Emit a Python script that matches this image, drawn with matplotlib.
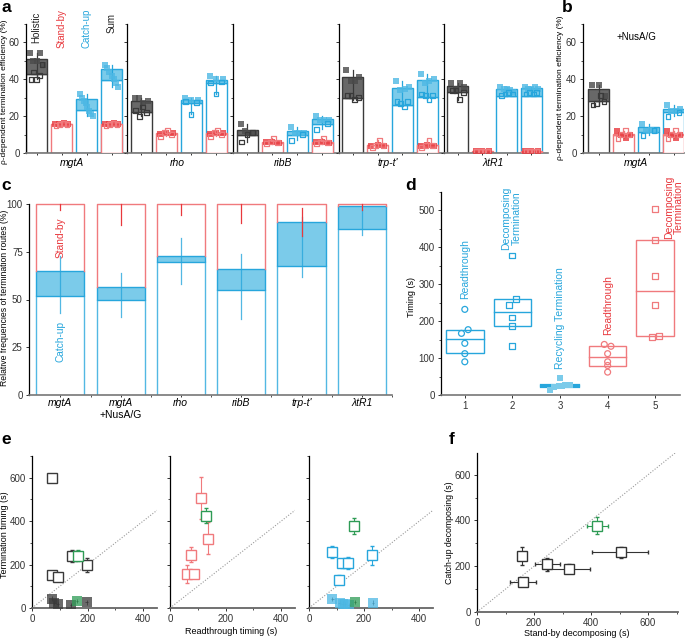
import numpy as np
import matplotlib
matplotlib.use('Agg')
import matplotlib.pyplot as plt
from matplotlib.patches import Rectangle
from matplotlib.ticker import MultipleLocator, NullFormatter

plt.rcParams['font.family'] = ['Liberation Sans', 'DejaVu Sans']
plt.rcParams['font.size'] = 7
plt.rcParams['axes.linewidth'] = 0.9
for k in ['xtick', 'ytick']:
    plt.rcParams[k + '.major.size'] = 2.5
    plt.rcParams[k + '.minor.size'] = 1.5
    plt.rcParams[k + '.major.pad'] = 2
    plt.rcParams[k + '.labelsize'] = 7
    plt.rcParams[k + '.color'] = '#333333'
    plt.rcParams[k + '.major.width'] = 0.7
    plt.rcParams[k + '.minor.width'] = 0.6

# ---------------- data: panel a ----------------
genes_a = ['mgtA', 'rho', 'ribB', "trp-t'", 'λtR1']
route_names = ['Holistic', 'Stand-by', 'Catch-up', 'Sum']
holistic_low = [43, 22, 10, 30, 33]
holistic_high = [51, 28.3, 12.4, 41.3, 36.4]
holistic_open = [[40, 44, 40, 42, 48], [23, 20, 25, 22], [6, 10, 11], [31, 31, 29, 30], [34, 34, 29, 33]]
holistic_filled = [[54, 50, 50, 54, 48], [30, 30, 27, 28], [16, 12, 11, 11], [45, 39, 39, 41], [38, 35, 38, 36]]
standby_low = [15.5, 10.5, 5.5, 4.3, 0.8]
standby_high = [16, 10.8, 6, 4.5, 1.0]
standby_open = [[15, 15.5, 16, 15.5], [9, 11, 12, 10], [5, 6, 8, 5.5], [3, 4, 7, 4], [0.8, 0.8, 0.8, 0.8]]
standby_filled = [[15.5, 16, 16.5, 16], [10.5, 11, 11], [6, 6, 5.5], [4, 4.5, 4], [1, 1, 1]]
catchup_low = [23.3, 27, 10, 26, 31]
catchup_high = [29.2, 28.5, 12, 35.5, 35]
catchup_open = [[], [28, 21, 27.5], [7, 10], [28, 27, 25, 28], [31, 32, 33, 32]]
catchup_filled = [[32, 30, 28, 27, 25, 23, 21, 20], [30, 29, 29], [14, 11, 11, 11], [39, 34, 35, 36], [36, 35, 35, 34, 33]]
sum_low = [39.5, 38, 16, 30.4, 31]
sum_high = [45.4, 39.5, 18.4, 39.5, 35.2]
sum_open = [[], [38, 32, 38.5], [12.8, 16], [32, 31, 29, 31], [32, 33, 32, 33]]
sum_filled = [[48, 46, 44, 42, 40, 38, 36], [42, 40, 40], [20, 18, 18, 18], [43, 38, 39, 40], [36, 35, 35, 36, 35]]

# ---------------- data: panel b (mgtA +NusA/G) ----------------
nus_low = [28, 10, 11.5, 22]
nus_high = [34.6, 10.3, 13.9, 24]
nus_open = [[26, 27, 31, 28], [8, 10, 12, 10], [9.7, 12], [20, 22]]
nus_filled = [[37, 37, 31], [12, 10, 8, 10], [16, 12, 12.5, 12], [26, 23, 23, 24]]

# ---------------- data: panel c ----------------
genes_c = ['mgtA', 'mgtA', 'rho', 'ribB', "trp-t'", 'λtR1']
genes_c_sub = ['', '+NusA/G', '', '', '', '']
c_low = [52, 49.5, 69.6, 55, 67.7, 87]
c_high = [65, 56.8, 72.9, 66, 90.4, 98.8]
c_blue_err_lo = [43, 41, 58, 40, 62, 84]
c_blue_err_hi = [73, 64, 82, 74, 93, 97]
c_red_err_lo = [97, 89, 94, 90, 83, 97]
c_red_err_hi = [100, 100, 100, 100, 98, 100]

# ---------------- data: panel d ----------------
d_pos = [1, 2, 3, 4, 5]
d_points = [[232, 177, 167, 140, 112, 90],
            [378, 260, 245, 210, 188, 132],
            [45, 14, 22, 25, 27, 28, 24],
            [137, 132, 112, 90, 80, 62],
            [503, 420, 322, 245, 158, 160]]
d_box_low = [113, 188, 22, 78, 160]
d_box_mid = [153, 226, 24, 102, 283]
d_box_high = [176, 260, 26, 132, 421]
d_labels = ['Readthrough', 'Decomposing\nTermination', 'Recycling Termination', 'Readthrough', 'Decomposing\nTermination']

# ---------------- data: panel e ----------------
e1_x = [73, 143, 198, 72, 93]
e1_y = [597, 238, 200, 152, 145]
e1_xerr = [6, 12, 8, 6, 8]
e1_ylo = [587, 212, 168, 140, 133]
e1_yhi = [607, 265, 232, 165, 158]
e1g = [165, 240, 6, 215, 265]
e1f_x = [72, 80, 93, 140, 197]
e1f_y = [43, 22, 17, 12, 26]
e1fg = [162, 32]

e2_x = [110, 135, 75, 60, 87]
e2_y = [505, 320, 243, 155, 155]
e2_xerr = [6, 8, 6, 10, 6]
e2_ylo = [409, 250, 210, 115, 140]
e2_yhi = [602, 395, 280, 200, 170]
e2g = [131, 423, 6, 390, 460]

e3_x = [85, 121, 141, 228, 109]
e3_y = [258, 205, 205, 243, 131]
e3_xerr = [8, 10, 15, 8, 8]
e3_ylo = [230, 185, 180, 200, 115]
e3_yhi = [285, 225, 235, 285, 150]
e3g = [165, 377, 6, 340, 415]
e3f_x = [85, 112, 122, 130, 145, 232]
e3f_y = [42, 25, 20, 18, 15, 25]
e3fg = [167, 27]

# ---------------- data: panel f ----------------
f_x = [157, 161, 247, 323, 505]
f_y = [246, 132, 208, 187, 261]
f_xlo = [150, 115, 205, 250, 405]
f_xhi = [165, 207, 290, 395, 600]
f_ylo = [205, 120, 180, 170, 235]
f_yhi = [285, 145, 235, 210, 285]
fg = [421, 378, 385, 460, 340, 415]

# ---------------- styles ----------------
BLK_EDGE, BLK_FILL, BLK_PT = '#3a3a3a', '#686868', '#4a4a4a'
RED, RED_LT = '#E8383D', '#F07A7D'
BLUE, BLUE_FILL, BLUE_PT = '#27A6DC', '#7BCBEA', '#4DB8E4'
GREEN = '#2E9B55'
GRID_GREY = '#777777'

W, H = 685, 638
fig = plt.figure(figsize=(W / 100, H / 100), dpi=100)


def add_ax(l, t, r, b):
    return fig.add_axes([l / W, 1 - b / H, (r - l) / W, (b - t) / H])


def ftext(x, y, s, **kw):
    fig.text(x / W, 1 - y / H, s, **kw)


def spread(n, half=0.26):
    if n <= 1:
        return np.zeros(n)
    return np.linspace(-half, half, n)


def draw_route(ax, x, lo, hi, opens, filleds, edge, fill, ptc, z=2, w=0.84):
    ax.add_patch(Rectangle((x - w / 2, 0), w, lo, facecolor='white', edgecolor=edge, lw=1.0, zorder=z))
    ax.add_patch(Rectangle((x - w / 2, lo), w, hi - lo, facecolor=fill, edgecolor=edge, lw=1.0, zorder=z))
    pts = list(opens) + list(filleds)
    if pts:
        ax.plot([x, x], [min(pts), max(pts)], color=edge, lw=0.9, zorder=z + 0.5)
    if filleds:
        ax.scatter(x + spread(len(filleds)), filleds, marker='s', s=14, color=ptc, alpha=0.8,
                   lw=0, zorder=z + 1)
    if opens:
        ax.scatter(x + spread(len(opens), 0.22), opens, marker='s', s=12, facecolors='none',
                   edgecolors=edge, lw=0.9, zorder=z + 1.5)


def style_bar_axis(ax, labels):
    ax.set_ylim(0, 70)
    for s in ['top', 'right']:
        ax.spines[s].set_visible(False)
    ax.spines['bottom'].set_color(GRID_GREY)
    ax.spines['bottom'].set_linewidth(1.2)
    ax.yaxis.set_major_locator(MultipleLocator(20))
    ax.yaxis.set_minor_locator(MultipleLocator(10))
    if not labels:
        ax.yaxis.set_major_formatter(NullFormatter())
    ax.set_xticks([0, 1, 2, 3])
    ax.set_xticklabels([])
    ax.tick_params(axis='x', length=1.5)


# ---------------- panel a ----------------
a_left = [26, 127, 233, 339, 444]
a_right = [127, 233, 339, 444, 548]
a_label_x = [72, 177, 283, 388, 493]
for i in range(5):
    ax = add_ax(a_left[i], 24, a_right[i], 153)
    ax.set_xlim((-0.42, 3.62) if i == 0 else (-0.56, 3.68))
    style_bar_axis(ax, i == 0)
    draw_route(ax, 0, holistic_low[i], holistic_high[i], holistic_open[i], holistic_filled[i],
               BLK_EDGE, BLK_FILL, BLK_PT)
    draw_route(ax, 1, standby_low[i], standby_high[i], standby_open[i], standby_filled[i],
               RED_LT, RED_LT, RED)
    draw_route(ax, 2, catchup_low[i], catchup_high[i], catchup_open[i], catchup_filled[i],
               BLUE, BLUE_FILL, BLUE_PT)
    draw_route(ax, 3, sum_low[i], sum_high[i], sum_open[i], sum_filled[i],
               BLUE, BLUE_FILL, BLUE_PT)
    draw_route(ax, 3, standby_low[i], standby_high[i], standby_open[i], standby_filled[i],
               RED_LT, RED_LT, RED, z=5)
    ftext(a_label_x[i], 163, genes_a[i], ha='center', va='center', fontsize=7.5, style='italic')
    if i == 0:
        cols = ['#222222', RED, BLUE, '#222222']
        ybot = [59.5, 56.8, 57, 64.9]
        for j in range(4):
            ax.text(j, ybot[j], route_names[j], rotation=90, ha='center', va='bottom',
                    color=cols[j], fontsize=7)

ftext(4.5, 92, 'ρ-dependent termination efficiency (%)', rotation=90, ha='center', va='center', fontsize=6)

# ---------------- panel b ----------------
axb = add_ax(583, 24, 684, 153)
axb.set_xlim(-0.62, 3.42)
style_bar_axis(axb, True)
draw_route(axb, 0, nus_low[0], nus_high[0], nus_open[0], nus_filled[0], BLK_EDGE, BLK_FILL, BLK_PT)
draw_route(axb, 1, nus_low[1], nus_high[1], nus_open[1], nus_filled[1], RED_LT, RED_LT, RED)
draw_route(axb, 2, nus_low[2], nus_high[2], nus_open[2], nus_filled[2], BLUE, BLUE_FILL, BLUE_PT)
draw_route(axb, 3, nus_low[3], nus_high[3], nus_open[3], nus_filled[3], BLUE, BLUE_FILL, BLUE_PT)
draw_route(axb, 3, nus_low[1], nus_high[1], nus_open[1], nus_filled[1], RED_LT, RED_LT, RED, z=5)
axb.text(1.5, 63, '+NusA/G', ha='center', va='center', fontsize=7)
ftext(636, 163, 'mgtA', ha='center', va='center', fontsize=7.5, style='italic')
ftext(561, 88, 'ρ-dependent termination efficiency (%)', rotation=90, ha='center', va='center', fontsize=6)

# ---------------- panel c ----------------
axc = add_ax(29, 204, 392, 395)
axc.set_xlim(-0.52, 5.5)
axc.set_ylim(0, 100)
for s in ['top', 'right']:
    axc.spines[s].set_visible(False)
axc.spines['bottom'].set_color(GRID_GREY)
axc.spines['bottom'].set_linewidth(1.2)
axc.yaxis.set_major_locator(MultipleLocator(25))
axc.set_xticks(range(6))
axc.set_xticks(np.arange(6) + 0.5, minor=True)
axc.set_xticklabels([])
axc.tick_params(axis='x', which='both', length=1.5)
wc = 0.8
for i in range(6):
    lo, hi = c_low[i], c_high[i]
    x0, x1 = i - wc / 2, i + wc / 2
    axc.plot([x0, x0], [0, lo], color=BLUE, lw=1.0, alpha=0.8)
    axc.plot([x1, x1], [0, lo], color=BLUE, lw=1.0, alpha=0.8)
    axc.add_patch(Rectangle((x0, lo), wc, hi - lo, facecolor=BLUE_FILL, edgecolor=BLUE, lw=1.0, zorder=2))
    axc.plot([x0, x0, x1, x1], [hi, 100, 100, hi], color=RED_LT, lw=1.0, clip_on=False)
    axc.plot([i, i], [c_blue_err_lo[i], c_blue_err_hi[i]], color=BLUE, lw=0.9, alpha=0.8, zorder=3)
    axc.plot([i, i], [c_red_err_lo[i], c_red_err_hi[i]], color=RED, lw=0.9, zorder=3, clip_on=False)
    px = 60 + i * 60.4
    ftext(px, 403, genes_c[i], ha='center', va='center', fontsize=7.5, style='italic')
    if genes_c_sub[i]:
        ftext(px, 415, genes_c_sub[i], ha='center', va='center', fontsize=7.5)
axc.text(0, 82.4, 'Stand-by', rotation=90, color=RED, ha='center', va='center', fontsize=7.3)
axc.text(0, 28, 'Catch-up', rotation=90, color=BLUE, ha='center', va='center', fontsize=7.3)
ftext(5, 298, 'Relative frequencies of termination routes (%)', rotation=90, ha='center', va='center',
      fontsize=6.2)

# ---------------- panel d ----------------
axd = add_ax(441, 192, 680, 395)
axd.set_xlim(0.5, 5.52)
axd.set_ylim(0, 550)
for s in ['top', 'right']:
    axd.spines[s].set_visible(False)
axd.spines['bottom'].set_color(GRID_GREY)
axd.spines['bottom'].set_linewidth(1.2)
axd.yaxis.set_major_locator(MultipleLocator(100))
axd.yaxis.set_minor_locator(MultipleLocator(50))
axd.set_xticks(d_pos)
d_cols = [BLUE, BLUE, BLUE, RED_LT, RED_LT]
d_mark = ['o', 's', 's', 'o', 's']
d_fill = [False, False, True, False, False]
d_off = [[0, 0.07, -0.07, 0, 0, 0],
         [0, 0.07, -0.07, 0, 0, 0],
         [0, -0.22, -0.12, 0.05, 0.1, 0.22, -0.02],
         [-0.07, 0.07, 0, 0, 0, 0],
         [0, 0, 0, 0, -0.07, 0.07]]
wd = 0.79
for i in range(5):
    x = d_pos[i]
    c = d_cols[i]
    lw = 1.6 if i == 2 else 1.0
    axd.add_patch(Rectangle((x - wd / 2, d_box_low[i]), wd, d_box_high[i] - d_box_low[i],
                            facecolor='none', edgecolor=c, lw=lw))
    axd.plot([x - wd / 2, x + wd / 2], [d_box_mid[i]] * 2, color=c, lw=lw)
    xs = x + np.array(d_off[i])
    if d_fill[i]:
        axd.scatter(xs, d_points[i], marker=d_mark[i], s=16, color=BLUE_FILL, lw=0, zorder=3)
    else:
        axd.scatter(xs, d_points[i], marker=d_mark[i], s=18, facecolors='none', edgecolors=c,
                    lw=0.9, zorder=3)
d_text_xy = [(1.0, 340), (1.98, 480), (3.0, 208), (4.0, 244), (5.39, 508)]
d_text_c = [BLUE, BLUE, BLUE, RED, RED]
for i in range(5):
    axd.text(d_text_xy[i][0], d_text_xy[i][1], d_labels[i], rotation=90, ha='center', va='center',
             color=d_text_c[i], fontsize=7.5, clip_on=False, linespacing=1.0)
ftext(411, 297, 'Timing (s)', rotation=90, ha='center', va='center', fontsize=6.5)


# ---------------- panel e ----------------
def e_axis(l, r, ylabels):
    ax = add_ax(l, 456, r, 608)
    ax.set_xlim(0, 450)
    ax.set_ylim(0, 700)
    for s in ['top', 'right']:
        ax.spines[s].set_visible(False)
    ax.spines['bottom'].set_color('#666666')
    ax.spines['bottom'].set_linewidth(1.3)
    ax.xaxis.set_major_locator(MultipleLocator(200))
    ax.xaxis.set_minor_locator(MultipleLocator(100))
    ax.yaxis.set_major_locator(MultipleLocator(200))
    ax.yaxis.set_minor_locator(MultipleLocator(100))
    if not ylabels:
        ax.yaxis.set_major_formatter(NullFormatter())
    ax.plot([0, 450], [0, 450], color='#9a9a9a', ls=(0, (1, 1.5)), lw=0.8, zorder=1)
    return ax


def open_pts(ax, xs, ys, xerr, ylo, yhi, color, ms=7):
    xs = np.array(xs, float); ys = np.array(ys, float)
    yerr = [ys - np.array(ylo), np.array(yhi) - ys]
    ax.errorbar(xs, ys, xerr=xerr, yerr=yerr, fmt='s', ms=ms, mfc='white', mec=color, mew=1.0,
                ecolor=color, elinewidth=0.8, capsize=1.2, capthick=0.8, zorder=4, clip_on=False)


def filled_pts(ax, xs, ys, color):
    ax.errorbar(xs, ys, xerr=5, yerr=10, fmt='s', ms=7, mfc=color, mec=color, mew=0, alpha=0.75,
                ecolor='#222222', elinewidth=0.7, capsize=0, zorder=3)


ax1 = e_axis(32, 157, True)
open_pts(ax1, e1_x, e1_y, e1_xerr, e1_ylo, e1_yhi, BLK_EDGE)
open_pts(ax1, [e1g[0]], [e1g[1]], [e1g[2]], [e1g[3]], [e1g[4]], GREEN)
filled_pts(ax1, e1f_x, e1f_y, '#3a3a3a')
filled_pts(ax1, [e1fg[0]], [e1fg[1]], GREEN)

ax2 = e_axis(170, 295, False)
open_pts(ax2, e2_x, e2_y, e2_xerr, e2_ylo, e2_yhi, RED_LT)
open_pts(ax2, [e2g[0]], [e2g[1]], [e2g[2]], [e2g[3]], [e2g[4]], GREEN)

ax3 = e_axis(309, 433, False)
open_pts(ax3, e3_x, e3_y, e3_xerr, e3_ylo, e3_yhi, BLUE)
open_pts(ax3, [e3g[0]], [e3g[1]], [e3g[2]], [e3g[3]], [e3g[4]], GREEN)
filled_pts(ax3, e3f_x, e3f_y, BLUE_PT)
filled_pts(ax3, [e3fg[0]], [e3fg[1]], GREEN)

ftext(5, 535, 'Termination timing (s)', rotation=90, ha='center', va='center', fontsize=6.5)
ftext(231, 632, 'Readthrough timing (s)', ha='center', va='center', fontsize=6.5)

# ---------------- panel f ----------------
axf = add_ax(477, 453, 678, 612)
axf.set_xlim(0, 705)
axf.set_ylim(0, 695)
for s in ['top', 'right']:
    axf.spines[s].set_visible(False)
axf.spines['bottom'].set_color('#666666')
axf.spines['bottom'].set_linewidth(1.3)
axf.xaxis.set_major_locator(MultipleLocator(200))
axf.xaxis.set_minor_locator(MultipleLocator(100))
axf.yaxis.set_major_locator(MultipleLocator(200))
axf.yaxis.set_minor_locator(MultipleLocator(100))
axf.plot([0, 700], [0, 700], color='#9a9a9a', ls=(0, (1, 1.5)), lw=0.8, zorder=1)
fx = np.array(f_x, float); fy = np.array(f_y, float)
axf.errorbar(fx, fy, xerr=[fx - np.array(f_xlo), np.array(f_xhi) - fx],
             yerr=[fy - np.array(f_ylo), np.array(f_yhi) - fy], fmt='s', ms=7.5, mfc='white',
             mec='#333333', mew=1.0, ecolor='#333333', elinewidth=0.8, capsize=1.2, zorder=4)
axf.errorbar([fg[0]], [fg[1]], xerr=[[fg[0] - fg[2]], [fg[3] - fg[0]]],
             yerr=[[fg[1] - fg[4]], [fg[5] - fg[1]]], fmt='s', ms=7.5, mfc='white', mec=GREEN,
             mew=1.0, ecolor=GREEN, elinewidth=0.8, capsize=1.2, zorder=4)
ftext(577, 633, 'Stand-by decomposing (s)', ha='center', va='center', fontsize=6.5)
ftext(449, 533, 'Catch-up decomposing (s)', rotation=90, ha='center', va='center', fontsize=6.3)

# ---------------- panel letters ----------------
for (lx, ly, s) in [(1, 0, 'a'), (562, 0, 'b'), (1, 178, 'c'), (405, 178, 'd'), (1, 432, 'e'), (449, 432, 'f')]:
    ftext(lx, ly, s, ha='left', va='top', fontsize=12.5, fontweight='bold')

fig.savefig('out.png', dpi=100)
